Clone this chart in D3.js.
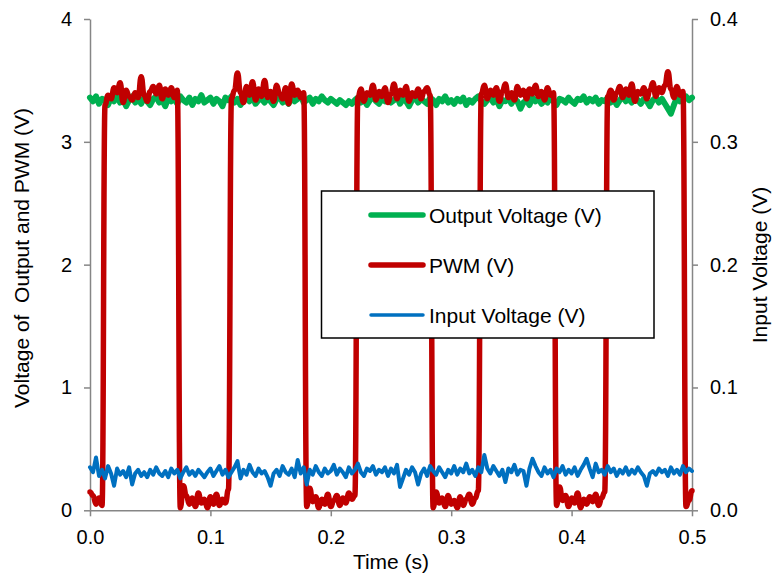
<!DOCTYPE html>
<html>
<head>
<meta charset="utf-8">
<script src="https://cdn.jsdelivr.net/npm/d3@7"></script>
<style>
  html, body { margin: 0; padding: 0; background: #fff; }
  svg { display: block; font-family: "Liberation Sans", Arial, sans-serif; }
</style>
</head>
<body>
<svg id="chart" width="772" height="580"></svg>
<script>
// Sampling interval of the logged signals, in seconds
const sampleStep = 0.0025;

// Output voltage (V), left axis
const outputVoltage = [
  3.36, 3.33, 3.37, 3.31, 3.35, 3.34, 3.30, 3.36, 3.33, 3.38, 3.32, 3.35, 3.29, 3.34, 3.37, 3.32, 3.35, 3.31, 3.36, 3.33,
  3.30, 3.35, 3.37, 3.32, 3.34, 3.29, 3.36, 3.33, 3.35, 3.31, 3.37, 3.34, 3.32, 3.36, 3.30, 3.35, 3.33, 3.38, 3.32, 3.34,
  3.36, 3.31, 3.35, 3.33, 3.29, 3.36, 3.34, 3.37, 3.32, 3.35, 3.30, 3.34, 3.36, 3.33, 3.37, 3.31, 3.34, 3.35, 3.32, 3.36,
  3.33, 3.30, 3.35, 3.37, 3.32, 3.34, 3.31, 3.36, 3.33, 3.35, 3.38, 3.32, 3.34, 3.36, 3.31, 3.35, 3.33, 3.37, 3.34, 3.32,
  3.35, 3.33, 3.31, 3.34, 3.32, 3.30, 3.33, 3.31, 3.34, 3.36, 3.32, 3.35, 3.30, 3.34, 3.37, 3.33, 3.31, 3.35, 3.33, 3.36,
  3.32, 3.34, 3.37, 3.31, 3.35, 3.33, 3.29, 3.34, 3.36, 3.32, 3.35, 3.33, 3.31, 3.36, 3.34, 3.30, 3.35, 3.33, 3.37, 3.32,
  3.34, 3.31, 3.35, 3.33, 3.36, 3.30, 3.34, 3.32, 3.35, 3.37, 3.33, 3.31, 3.34, 3.36, 3.32, 3.35, 3.29, 3.34, 3.33, 3.36,
  3.31, 3.35, 3.33, 3.27, 3.32, 3.34, 3.30, 3.36, 3.33, 3.35, 3.31, 3.34, 3.32, 3.36, 3.33, 3.30, 3.35, 3.34, 3.32, 3.36,
  3.33, 3.31, 3.35, 3.34, 3.37, 3.32, 3.35, 3.33, 3.36, 3.31, 3.34, 3.33, 3.36, 3.32, 3.35, 3.30, 3.34, 3.37, 3.33, 3.35,
  3.32, 3.36, 3.34, 3.31, 3.35, 3.33, 3.29, 3.34, 3.36, 3.32, 3.35, 3.31, 3.27, 3.23, 3.30, 3.36, 3.33, 3.35, 3.37, 3.34,
  3.36
];

// PWM signal (V), left axis
const pwm = [
  0.15, 0.12, 0.05, 0.10, 0.04,
  3.30, 3.38, 3.35, 3.44, 3.40, 3.48, 3.32, 3.42, 3.37, 3.34, 3.40, 3.36, 3.53, 3.38, 3.33, 3.41, 3.45, 3.39, 3.46, 3.35, 3.43, 3.38, 3.44, 3.36, 3.42,
  0.02, 0.20, 0.12, 0.05, 0.10, 0.03, 0.14, 0.06, 0.09, 0.02, 0.11, 0.05, 0.13, 0.04, 0.09, 0.06, 0.17,
  3.35, 3.42, 3.56, 3.40, 3.32, 3.45, 3.38, 3.49, 3.34, 3.43, 3.37, 3.50, 3.36, 3.41, 3.33, 3.46, 3.39, 3.35, 3.44, 3.31, 3.47, 3.38, 3.42, 3.36, 3.40,
  0.03, 0.18, 0.07, 0.11, 0.02, 0.09, 0.05, 0.13, 0.03, 0.08, 0.12, 0.04, 0.10, 0.06, 0.14, 0.09, 0.12,
  3.36, 3.43, 3.33, 3.40, 3.38, 3.46, 3.34, 3.41, 3.37, 3.44, 3.32, 3.39, 3.47, 3.35, 3.42, 3.38, 3.45, 3.33, 3.40, 3.37, 3.43, 3.35, 3.41, 3.44, 3.38,
  0.02, 0.15, 0.06, 0.10, 0.03, 0.12, 0.05, 0.08, 0.02, 0.11, 0.04, 0.09, 0.13, 0.05, 0.10, 0.16,
  3.39, 3.46, 3.35, 3.42, 3.38, 3.44, 3.33, 3.41, 3.47, 3.36, 3.40, 3.34, 3.45, 3.38, 3.42, 3.35, 3.43, 3.39, 3.46, 3.37, 3.41, 3.34, 3.44, 3.38, 3.40,
  0.04, 0.19, 0.08, 0.12, 0.03, 0.10, 0.06, 0.14, 0.02, 0.09, 0.05, 0.11, 0.07, 0.13, 0.04, 0.10, 0.15,
  3.37, 3.42, 3.34, 3.40, 3.45, 3.36, 3.43, 3.38, 3.47, 3.33, 3.41, 3.39, 3.44, 3.35, 3.42, 3.48, 3.37, 3.44, 3.40, 3.46, 3.57, 3.43, 3.36, 3.45, 3.38, 3.41,
  0.03, 0.08, 0.16
];

// Input voltage (V), right axis
const inputVoltage = [
  0.035, 0.031, 0.043, 0.028, 0.033, 0.026, 0.036, 0.030, 0.020, 0.034, 0.029, 0.032, 0.027, 0.035, 0.021, 0.030, 0.033, 0.028, 0.031, 0.027,
  0.033, 0.029, 0.035, 0.030, 0.028, 0.032, 0.027, 0.034, 0.030, 0.033, 0.026, 0.031, 0.035, 0.029, 0.032, 0.028, 0.033, 0.030, 0.027, 0.031,
  0.034, 0.028, 0.032, 0.036, 0.029, 0.033, 0.027, 0.031, 0.035, 0.040, 0.026, 0.033, 0.029, 0.037, 0.031, 0.028, 0.034, 0.030, 0.032, 0.027,
  0.020, 0.030, 0.033, 0.028, 0.036, 0.031, 0.029, 0.034, 0.027, 0.041, 0.030, 0.035, 0.021, 0.033, 0.029, 0.036, 0.031, 0.028, 0.034, 0.030,
  0.032, 0.037, 0.029, 0.034, 0.031, 0.027, 0.035, 0.030, 0.033, 0.038, 0.031, 0.028, 0.034, 0.032, 0.036, 0.029, 0.033, 0.031, 0.035, 0.028,
  0.034, 0.030, 0.037, 0.019, 0.026, 0.033, 0.029, 0.035, 0.031, 0.021, 0.030, 0.034, 0.028, 0.036, 0.032, 0.029, 0.035, 0.031, 0.027, 0.033,
  0.030, 0.036, 0.029, 0.034, 0.031, 0.038, 0.030, 0.033, 0.028, 0.035, 0.031, 0.045, 0.034, 0.030, 0.036, 0.032, 0.028, 0.033, 0.023, 0.034,
  0.031, 0.037, 0.029, 0.033, 0.032, 0.020, 0.034, 0.042, 0.036, 0.031, 0.028, 0.035, 0.030, 0.033, 0.027, 0.034, 0.031, 0.036, 0.029, 0.033,
  0.030, 0.035, 0.028, 0.033, 0.037, 0.042, 0.034, 0.027, 0.038, 0.031, 0.033, 0.029, 0.036, 0.031, 0.034, 0.028, 0.033, 0.030, 0.035, 0.029,
  0.033, 0.030, 0.035, 0.031, 0.028, 0.020, 0.030, 0.032, 0.029, 0.034, 0.031, 0.033, 0.028, 0.035, 0.030, 0.033, 0.029, 0.036, 0.031, 0.034,
  0.032
];

// Axis ticks and labels
const timeTicks = [0, 0.1, 0.2, 0.3, 0.4, 0.5];
const leftTicks = [0, 1, 2, 3, 4];
const rightTicks = [0, 0.1, 0.2, 0.3, 0.4];
const seriesNames = ["Output Voltage (V)", "PWM (V)", "Input Voltage (V)"];
const seriesColors = ["#00B050", "#C00000", "#0070C0"];
const seriesWidths = [6, 5.5, 4];
const xTitle = "Time (s)";
const leftTitle = "Voltage of  Output and PWM (V)";
const rightTitle = "Input Voltage (V)";

const svg = d3.select("#chart");
const plot = { left: 90, right: 692, top: 19, bottom: 510.3 };
const axisColor = "#868686";

const x = d3.scaleLinear().domain([0, 0.5]).range([plot.left, plot.right]);
const yLeft = d3.scaleLinear().domain([0, 4]).range([plot.bottom, plot.top]);
const yRight = d3.scaleLinear().domain([0, 0.4]).range([plot.bottom, plot.top]);

function styleAxis(g) {
  g.select(".domain").attr("stroke", axisColor).attr("stroke-width", 1.5);
  g.selectAll(".tick line").attr("stroke", axisColor).attr("stroke-width", 1.5);
  g.selectAll(".tick text").attr("fill", "#000").style("font-size", "20px")
    .style("font-family", "'Liberation Sans', Arial, sans-serif");
}

// Axes
svg.append("g")
  .attr("transform", `translate(0,${plot.bottom})`)
  .call(d3.axisBottom(x).tickValues(timeTicks).tickFormat(d3.format(".1f"))
    .tickSize(6).tickSizeOuter(0).tickPadding(14))
  .call(styleAxis);

svg.append("g")
  .attr("transform", `translate(${plot.left},0)`)
  .call(d3.axisLeft(yLeft).tickValues(leftTicks).tickFormat(d3.format("d"))
    .tickSize(6).tickSizeOuter(0).tickPadding(12))
  .call(styleAxis);

svg.append("g")
  .attr("transform", `translate(${plot.right},0)`)
  .call(d3.axisRight(yRight).tickValues(rightTicks).tickFormat(d3.format(".1f"))
    .tickSize(6).tickSizeOuter(0).tickPadding(12))
  .call(styleAxis);

// Axis titles
svg.append("text")
  .attr("x", (plot.left + plot.right) / 2).attr("y", 569)
  .attr("text-anchor", "middle").style("font-size", "21px").attr("fill", "#000")
  .text(xTitle);

svg.append("text")
  .attr("transform", "translate(29,258) rotate(-90)")
  .attr("text-anchor", "middle").style("font-size", "21px").style("white-space", "pre")
  .attr("fill", "#000")
  .text(leftTitle);

svg.append("text")
  .attr("transform", "translate(767,265) rotate(-90)")
  .attr("text-anchor", "middle").style("font-size", "21px").attr("fill", "#000")
  .text(rightTitle);

// Signal traces: output and PWM on the left scale, input on the right scale.
// The PWM trace uses a horizontal-tangent curve so its switching edges stay upright.
const series = [
  { values: outputVoltage, y: yLeft, curve: d3.curveLinear },
  { values: pwm, y: yLeft, curve: d3.curveBumpX },
  { values: inputVoltage, y: yRight, curve: d3.curveLinear }
];

series.forEach((s, k) => {
  const line = d3.line()
    .x((d, i) => x(i * sampleStep))
    .y(d => s.y(d))
    .curve(s.curve);
  svg.append("path")
    .datum(s.values)
    .attr("fill", "none")
    .attr("stroke", seriesColors[k])
    .attr("stroke-width", seriesWidths[k])
    .attr("stroke-linejoin", "round")
    .attr("stroke-linecap", "round")
    .attr("d", line);
});

// Legend
const legend = svg.append("g");
legend.append("rect")
  .attr("x", 321.5).attr("y", 191).attr("width", 332.5).attr("height", 147)
  .attr("fill", "#fff").attr("stroke", "#000").attr("stroke-width", 1.5);

seriesNames.forEach((name, k) => {
  const rowY = 215 + k * 50;
  legend.append("line")
    .attr("x1", 371).attr("x2", 423).attr("y1", rowY).attr("y2", rowY)
    .attr("stroke", seriesColors[k]).attr("stroke-width", k === 2 ? 3.5 : 5.5)
    .attr("stroke-linecap", "round");
  legend.append("text")
    .attr("x", 429).attr("y", rowY + 7.5)
    .style("font-size", "21px").attr("fill", "#000")
    .text(name);
});
</script>
</body>
</html>
